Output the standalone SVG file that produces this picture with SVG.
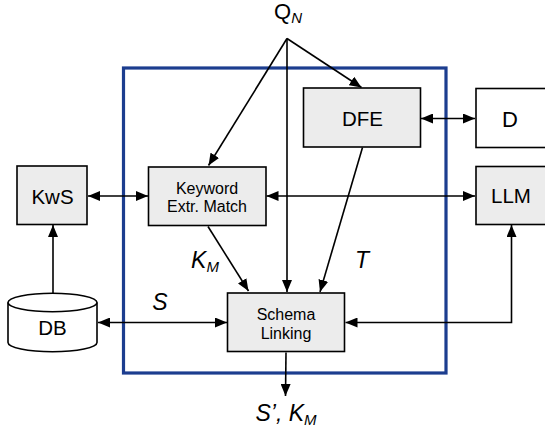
<svg xmlns="http://www.w3.org/2000/svg" width="545" height="433" viewBox="0 0 545 433">
<defs>
<marker id="ah" viewBox="0 0 12 10" refX="12" refY="5" markerWidth="12" markerHeight="10" markerUnits="userSpaceOnUse" orient="auto-start-reverse">
<path d="M0,0 L12,5 L0,10 Z" fill="#000"/>
</marker>
</defs>
<style>
.box{fill:#ececec;stroke:#000;stroke-width:1.6}
.wbox{fill:#fff;stroke:#000;stroke-width:1.6}
.t{font-family:"Liberation Sans",Arial,sans-serif;fill:#000;text-anchor:middle}
.big{font-size:20.5px}
.small{font-size:16px}
.lab{font-family:"Liberation Sans",Arial,sans-serif;font-style:italic;font-size:23px;fill:#000;text-anchor:middle}
.c{fill:none;stroke:#000;stroke-width:1.6}
</style>
<rect width="545" height="433" fill="#fff"/>
<g id="container"><rect x="123.5" y="68" width="322.5" height="305" fill="none" stroke="#1c3d8f" stroke-width="3.2"/></g>
<g id="connectors">
<line class="c" x1="287" y1="38.5" x2="208.5" y2="165.5" marker-end="url(#ah)"/>
<line class="c" x1="287" y1="38.5" x2="287" y2="292" marker-end="url(#ah)"/>
<line class="c" x1="287" y1="38.5" x2="361.5" y2="87.5" marker-end="url(#ah)"/>
<line class="c" x1="362.5" y1="147.5" x2="320" y2="292" marker-end="url(#ah)"/>
<line class="c" x1="208" y1="226.5" x2="248.5" y2="291" marker-end="url(#ah)"/>
<line class="c" x1="88" y1="196" x2="148" y2="196" marker-start="url(#ah)" marker-end="url(#ah)"/>
<line class="c" x1="266.5" y1="196" x2="475" y2="196" marker-start="url(#ah)" marker-end="url(#ah)"/>
<line class="c" x1="421" y1="118.5" x2="475" y2="118.5" marker-start="url(#ah)" marker-end="url(#ah)"/>
<line class="c" x1="53" y1="293" x2="53" y2="225" marker-end="url(#ah)"/>
<line class="c" x1="98" y1="322.5" x2="227" y2="322.5" marker-start="url(#ah)" marker-end="url(#ah)"/>
<polyline class="c" points="345.5,322.5 511.5,322.5 511.5,225" marker-start="url(#ah)" marker-end="url(#ah)"/>
<line class="c" x1="286" y1="352.5" x2="285.5" y2="396" marker-end="url(#ah)"/>
</g>
<g id="QN"><text class="t" x="288" y="19" style="font-size:22px">Q<tspan font-size="15" font-style="italic" dy="4">N</tspan></text></g>
<g id="DFE"><rect class="box" x="303.5" y="88" width="117" height="59"/><text class="t big" x="362.5" y="125.5">DFE</text></g>
<g id="D"><rect class="wbox" x="476" y="88.5" width="75" height="59"/><text class="t" x="510" y="127" style="font-size:22px">D</text></g>
<g id="KwS"><rect class="box" x="17" y="166" width="70" height="58.5"/><text class="t big" x="52.5" y="203.5">KwS</text></g>
<g id="Keyword"><rect class="box" x="148.5" y="167" width="117.5" height="58.5"/><text class="t small" x="207" y="193.5">Keyword</text><text class="t small" x="207" y="212">Extr. Match</text></g>
<g id="LLM"><rect class="box" x="476" y="166.5" width="75" height="58"/><text class="t big" x="511" y="202.5">LLM</text></g>
<g id="Schema"><rect class="box" x="227.5" y="293" width="117" height="58.5"/><text class="t small" x="286" y="319.5">Schema</text><text class="t small" x="286" y="338.5">Linking</text></g>
<g id="DB">
<path d="M8,302.5 L8,342.5 A44.5,9.2 0 0 0 97,342.5 L97,302.5" fill="#fff" stroke="#000" stroke-width="1.6"/>
<ellipse cx="52.5" cy="302.5" rx="44.5" ry="9.2" fill="#fff" stroke="#000" stroke-width="1.6"/>
<text class="t big" x="52.5" y="334.5">DB</text>
</g>
<g id="labels">
<text class="lab" x="205" y="268">K<tspan font-size="15" dy="4">M</tspan></text>
<text class="lab" x="362" y="268">T</text>
<text class="lab" x="160" y="310">S</text>
<text class="lab" x="286" y="421">S’, K<tspan font-size="15" dy="4">M</tspan></text>
</g>
</svg>
